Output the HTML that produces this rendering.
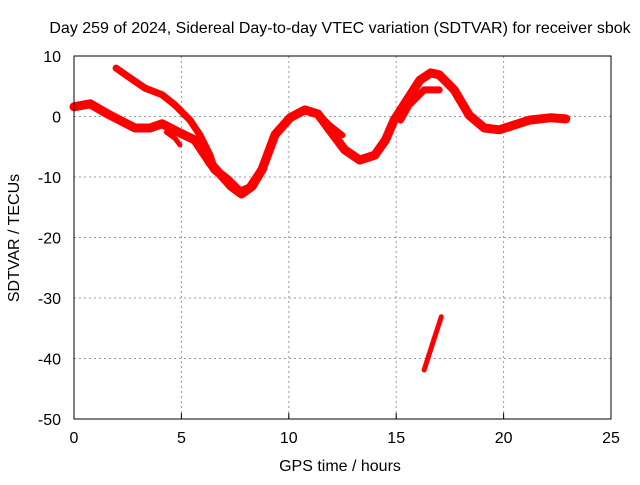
<!DOCTYPE html>
<html><head><meta charset="utf-8"><style>
body{margin:0;background:#fff;}
svg text{font-family:"Liberation Sans",sans-serif;font-size:16px;fill:#000;}
</style></head><body>
<svg id="chart" width="640" height="480" xmlns="http://www.w3.org/2000/svg">
<rect width="640" height="480" fill="#fff"/>
<text x="340" y="33" text-anchor="middle">Day 259 of 2024, Sidereal Day-to-day VTEC variation (SDTVAR) for receiver sbok</text>
<text x="340" y="471" text-anchor="middle">GPS time / hours</text>
<text transform="translate(19,238) rotate(-90)" text-anchor="middle">SDTVAR / TECUs</text>
<g id="grid"></g><g id="series"></g><g id="axes"></g>
</svg>
<script>
const xTicks=[0,5,10,15,20,25];
const yTicks=[10,0,-10,-20,-30,-40,-50];
const mainX=[0,0.75,1.68,2.84,3.54,4.1,4.93,5.63,6.1,6.56,7.17,7.73,8.19,8.75,9.36,10.06,10.75,11.36,11.9,12.6,13.3,14,14.5,14.9,15.5,16.1,16.6,17,17.7,18.4,19.1,19.8,20.5,21.2,22.2,22.9];
const mainY=[1.6,2.1,0.2,-1.9,-1.9,-1.2,-2.7,-3.9,-6.4,-8.8,-10.5,-12.5,-11.8,-8.8,-3,-0.2,1.1,0.4,-2.2,-5.5,-7.2,-6.4,-3.9,-0.6,2.7,6,7.2,6.9,4.4,0.2,-1.9,-2.2,-1.4,-0.6,-0.2,-0.4];
const b1X=[1.96,2.6,3.3,4.1,4.7,5.4,5.87,6.33,6.56];
const b1Y=[8,6.4,4.7,3.6,1.9,-0.6,-3.1,-6.4,-8.8];
const b2X=[4.3,4.7,4.93];
const b2Y=[-2.6,-3.6,-4.7];
const b3X=[11.45,11.9,12.5];
const b3Y=[0.2,-1.4,-3.1];
const b4X=[15.2,15.6,16.3,17];
const b4Y=[-0.6,1.9,4.4,4.4];
const dipX=[5.9,6.3,6.8,7.3,7.8,8.3,8.8];
const dipY=[-4.5,-7.5,-9.5,-11.5,-12.8,-11.5,-8.5];
const outX=[16.3,16.67,17.1];
const outY=[-41.9,-37.8,-33.1];
const L=74,R=611,T=56,B=419;
const xs=v=>L+(v-0)/25*(R-L);
const ys=v=>T+(10-v)/60*(B-T);
const NS='http://www.w3.org/2000/svg';
function mk(tag,attrs,parent){const e=document.createElementNS(NS,tag);for(const k in attrs)e.setAttribute(k,attrs[k]);document.getElementById(parent).appendChild(e);return e;}
xTicks.forEach(t=>{
 if(t>0&&t<25){const g=mk('line',{x1:xs(t),x2:xs(t),y1:T,y2:B,stroke:'#999','stroke-dasharray':'2,3'},'grid');
 
 }
 const tk=mk('line',{x1:xs(t),x2:xs(t),y1:B,y2:B-6,stroke:'#000'},'axes');
 
 
 const tx=mk('text',{x:xs(t),y:B+24,'text-anchor':'middle'},'axes');tx.textContent=t;
 
 
});
yTicks.forEach(t=>{
 if(t<10&&t>-50){const g=mk('line',{x1:L,x2:R,y1:ys(t),y2:ys(t),stroke:'#999','stroke-dasharray':'2,3'},'grid');
 
 }
 const tx=mk('text',{x:L-13,y:ys(t)+6,'text-anchor':'end'},'axes');tx.textContent=t;
 
 
});
const frame=mk('rect',{x:L,y:T,width:R-L,height:B-T,fill:'none',stroke:'#000'},'axes');


function series(X,Y,name,w){
 const p=mk('polyline',{points:X.map((x,i)=>xs(x)+','+ys(Y[i])).join(' '),fill:'none',stroke:'#f00','stroke-width':w,'stroke-linejoin':'round','stroke-linecap':'round'},'series');
 
 
}
series(mainX,mainY,'sdtvar-main-trace',9);
series(dipX,dipY,'sdtvar-dip-band',9);
series(b1X,b1Y,'sdtvar-upper-branch',7);
series(b2X,b2Y,'sdtvar-branch-2',5);
series(b3X,b3Y,'sdtvar-branch-3',6);
series(b4X,b4Y,'sdtvar-branch-4',7);
series(outX,outY,'sdtvar-outlier-segment',5);
</script>
</body></html>
